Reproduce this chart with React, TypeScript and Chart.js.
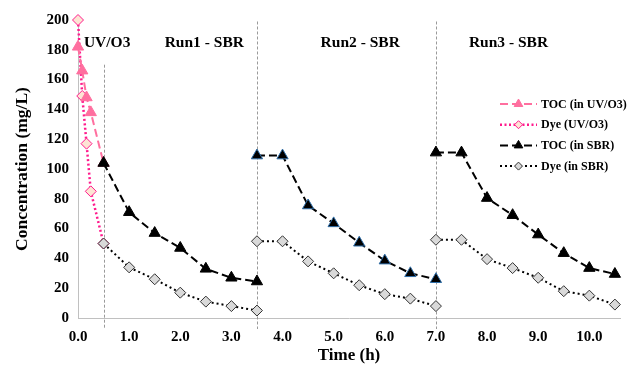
import React, { useEffect, useRef } from 'react';
import { Chart, registerables } from 'chart.js';
import { drawPoint } from 'chart.js/helpers';

Chart.register(...registerables);

// ---- Data ----
const uvTime = [0, 0.083, 0.167, 0.25, 0.5];
const tocUv = [182, 166, 148, 138, 104];
const dyeUv = [200, 149, 117, 85, 50];

const run1Time = [0.5, 1.0, 1.5, 2.0, 2.5, 3.0, 3.5];
const run2Time = [3.5, 4.0, 4.5, 5.0, 5.5, 6.0, 6.5, 7.0];
const run3Time = [7.0, 7.5, 8.0, 8.5, 9.0, 9.5, 10.0, 10.5];

const tocRun1 = [104, 71, 57, 47, 33, 27, 24.5];
const tocRun2 = [109, 109, 75.5, 63.5, 50.5, 38.5, 30, 26];
const tocRun3 = [111, 111, 80.5, 69, 56, 43.5, 33.5, 29.5];

const dyeRun1 = [50, 34, 26, 17, 11, 8, 5];
const dyeRun2 = [51.5, 51.5, 38, 30, 22, 16, 13, 8];
const dyeRun3 = [52.5, 52.5, 39.5, 33.5, 27, 18, 15, 9];

const seriesLabels = ['TOC (in UV/O3)', 'Dye (UV/O3)', 'TOC (in SBR)', 'Dye (in SBR)'];
const regionLabels = ['UV/O3', 'Run1 - SBR', 'Run2 - SBR', 'Run3 - SBR'];
const separatorTimes = [0.5, 3.5, 7.0];

const FONT = "'Liberation Serif', 'Times New Roman', serif";

const toPts = (xs: number[], ys: number[]) => xs.map((x, i) => ({ x, y: ys[i] as number | null }));
const joinRuns = (runs: { x: number; y: number | null }[][]) => {
  const out: { x: number; y: number | null }[] = [];
  runs.forEach((r, i) => {
    if (i > 0) out.push({ x: r[0].x, y: null });
    out.push(...r);
  });
  return out;
};

const tocSbrPts = joinRuns([
  toPts(run1Time, tocRun1),
  toPts(run2Time, tocRun2),
  toPts(run3Time, tocRun3),
]);
const dyeSbrPts = joinRuns([
  toPts(run1Time, dyeRun1),
  toPts(run2Time, dyeRun2),
  toPts(run3Time, dyeRun3),
]);
const tocSbrBorders = [
  ...run1Time.map(() => '#000000'),
  '#000000',
  ...run2Time.map(() => '#2f6ea8'),
  '#000000',
  ...run3Time.map(() => '#000000'),
];

const legendStyles = [
  { fill: '#ff6f9f', border: '#ff6f9f', radius: 5 },
  { fill: '#fde4d4', border: '#ff1a8c', radius: 4 },
  { fill: '#000000', border: '#000000', radius: 5 },
  { fill: '#d9d9d9', border: '#333333', radius: 4 },
];

const decorPlugin = {
  id: 'decor',
  beforeDatasetsDraw(chart: any) {
    const { ctx, chartArea, scales } = chart;
    const xs = scales.x;
    const ys = scales.y;
    ctx.save();
    ctx.strokeStyle = '#9a9a9a';
    ctx.lineWidth = 1;
    ctx.setLineDash([3, 2]);
    separatorTimes.forEach((t, i) => {
      const px = Math.round(xs.getPixelForValue(t)) + 0.5;
      const topVal = i === 0 ? 170 : 199;
      ctx.beginPath();
      ctx.moveTo(px, ys.getPixelForValue(topVal));
      ctx.lineTo(px, chartArea.bottom + 11);
      ctx.stroke();
    });
    ctx.restore();
  },
  afterDraw(chart: any) {
    const { ctx, scales } = chart;
    const xs = scales.x;
    const ys = scales.y;
    ctx.save();
    // region labels
    const centers = [0.57, 2.47, 5.52, 8.42];
    ctx.fillStyle = '#000';
    ctx.font = `bold 15.5px ${FONT}`;
    ctx.textAlign = 'center';
    ctx.textBaseline = 'middle';
    regionLabels.forEach((lab, i) => {
      ctx.fillText(lab, xs.getPixelForValue(centers[i]), ys.getPixelForValue(184.5));
    });
    // legend
    chart.data.datasets.forEach((ds: any, i: number) => {
      const y = 104 + i * 20.7;
      const x0 = 500;
      const x1 = 537;
      ctx.save();
      ctx.strokeStyle = ds.borderColor;
      ctx.lineWidth = ds.borderWidth;
      ctx.setLineDash(ds.borderDash || []);
      ctx.beginPath();
      ctx.moveTo(x0, y);
      ctx.lineTo(x1, y);
      ctx.stroke();
      ctx.setLineDash([]);
      const st = legendStyles[i];
      ctx.fillStyle = st.fill;
      ctx.strokeStyle = st.border;
      ctx.lineWidth = 1;
      drawPoint(ctx, { pointStyle: ds.pointStyle, radius: st.radius, borderWidth: 1, rotation: 0 } as any, (x0 + x1) / 2, y);
      ctx.fillStyle = '#000';
      ctx.font = `bold 12px ${FONT}`;
      ctx.textAlign = 'left';
      ctx.textBaseline = 'middle';
      ctx.fillText(seriesLabels[i], 541, y + 0.5);
      ctx.restore();
    });
    ctx.restore();
  },
};

export default function App() {
  const ref = useRef<HTMLCanvasElement | null>(null);

  useEffect(() => {
    document.body.style.margin = '0';
    if (!ref.current) return;
    const chart = new Chart(ref.current, {
      type: 'scatter',
      data: {
        datasets: [
          {
            label: seriesLabels[0],
            data: toPts(uvTime, tocUv),
            order: 2,
            showLine: true,
            borderColor: '#ff6f9f',
            borderWidth: 2,
            borderDash: [8, 4],
            pointStyle: 'triangle',
            pointRadius: 6.5,
            pointBackgroundColor: '#ff6f9f',
            pointBorderColor: '#ff6f9f',
            pointBorderWidth: 1,
            clip: false,
          } as any,
          {
            label: seriesLabels[1],
            data: toPts(uvTime, dyeUv),
            order: 3,
            showLine: true,
            borderColor: '#ff1a8c',
            borderWidth: 2.5,
            borderDash: [2, 2.5],
            pointStyle: 'rectRot',
            pointRadius: 5.5,
            pointBackgroundColor: '#fde4d4',
            pointBorderColor: '#ff1a8c',
            pointBorderWidth: 1,
            clip: false,
          },
          {
            label: seriesLabels[2],
            data: tocSbrPts,
            order: 0,
            showLine: true,
            spanGaps: false,
            borderColor: '#000000',
            borderWidth: 2,
            borderDash: [8, 4],
            pointStyle: 'triangle',
            pointRadius: 6.5,
            pointBackgroundColor: '#000000',
            pointBorderColor: tocSbrBorders,
            pointBorderWidth: 1,
            clip: false,
          },
          {
            label: seriesLabels[3],
            data: dyeSbrPts,
            order: 1,
            showLine: true,
            spanGaps: false,
            borderColor: '#000000',
            borderWidth: 2,
            borderDash: [2, 3],
            pointStyle: 'rectRot',
            pointRadius: 5.5,
            pointBackgroundColor: '#d9d9d9',
            pointBorderColor: '#333333',
            pointBorderWidth: 1,
            clip: false,
          },
        ],
      },
      options: {
        responsive: false,
        animation: false,
        layout: { padding: { top: 20, right: 12, left: 0, bottom: 0 } },
        plugins: {
          legend: { display: false },
          tooltip: { enabled: false },
        },
        scales: {
          x: {
            type: 'linear',
            min: 0,
            max: 10.6,
            grid: { display: false, drawTicks: false },
            border: { display: true, color: '#c0c0c0', width: 1 },
            ticks: {
              stepSize: 1,
              includeBounds: false,
              padding: 10,
              color: '#000',
              font: { family: FONT, size: 15, weight: 'bold' },
              callback: (v: any) => Number(v).toFixed(1),
              maxRotation: 0,
            },
            title: {
              display: true,
              text: 'Time (h)',
              color: '#000',
              font: { family: FONT, size: 17, weight: 'bold' },
              padding: { top: 0, bottom: 4 },
            },
            afterFit: (s: any) => {
              s.height = 52;
            },
          },
          y: {
            type: 'linear',
            min: 0,
            max: 200,
            grid: { display: false, drawTicks: false },
            border: { display: true, color: '#c0c0c0', width: 1 },
            ticks: {
              stepSize: 20,
              padding: 9,
              color: '#000',
              font: { family: FONT, size: 15, weight: 'bold' },
            },
            title: {
              display: true,
              text: 'Concentration (mg/L)',
              color: '#000',
              font: { family: FONT, size: 17.5, weight: 'bold' },
              padding: { top: 12, bottom: 0 },
            },
            afterFit: (s: any) => {
              s.width = 78;
            },
          },
        },
      },
      plugins: [decorPlugin],
    });
    return () => chart.destroy();
  }, []);

  return (
    <div style={{ width: 632, height: 370 }}>
      <canvas ref={ref} width={632} height={370} style={{ display: 'block' }} />
    </div>
  );
}
